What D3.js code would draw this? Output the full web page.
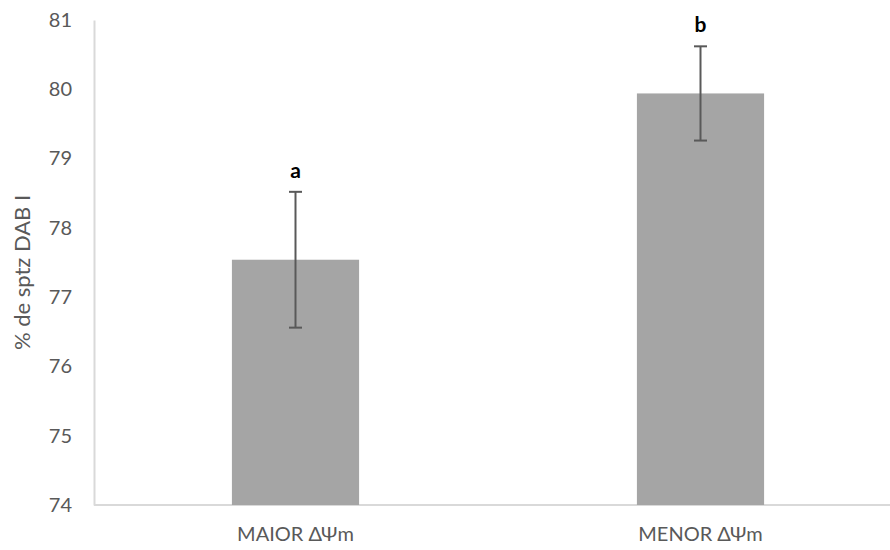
<!DOCTYPE html>
<html>
<head>
<meta charset="utf-8">
<script src="https://cdn.jsdelivr.net/npm/d3@7"></script>
<style>
  html, body { margin: 0; padding: 0; background: #fff; }
  svg { display: block; }
</style>
</head>
<body>
<svg id="chart" width="890" height="550"></svg>
<script>
// Mean % of DAB class I spermatozoa by mitochondrial membrane potential group
const categories = ["MAIOR ΔΨm", "MENOR ΔΨm"];
const means = [77.54, 79.94];
const errors = [0.98, 0.68];
const groupLetters = ["a", "b"];
const yTicks = [74, 75, 76, 77, 78, 79, 80, 81];

const svg = d3.select("#chart");
const font = "Lato, 'Open Sans', sans-serif";

const x = d3.scaleBand()
  .domain(categories)
  .range([93, 903])
  .paddingInner(0.686)
  .paddingOuter(0.343);

const y = d3.scaleLinear()
  .domain([74, 81])
  .range([505, 20]);

// Y axis: light vertical line with labels only
const yAxis = svg.append("g")
  .attr("transform", "translate(94,0)")
  .call(d3.axisLeft(y).tickValues(yTicks).tickSize(0).tickPadding(22).tickFormat(d3.format("d")));
yAxis.select(".domain").attr("stroke", "#d9d9d9").attr("stroke-width", 2);
yAxis.selectAll("text")
  .attr("fill", "#595959")
  .attr("font-family", font)
  .attr("font-size", 20);

// X axis: baseline with category labels
const xAxis = svg.append("g")
  .attr("transform", `translate(0,${y(74)})`)
  .call(d3.axisBottom(x).tickSize(0).tickPadding(22));
xAxis.select(".domain").attr("d", "M94,0H890").attr("stroke", "#d9d9d9").attr("stroke-width", 2);
xAxis.selectAll("text")
  .attr("fill", "#595959")
  .attr("font-family", font)
  .attr("font-size", 20);

// Axis title
svg.append("text")
  .attr("transform", `translate(24,${(y(74) + y(81)) / 2 + 10}) rotate(-90)`)
  .attr("text-anchor", "middle")
  .attr("dominant-baseline", "middle")
  .attr("fill", "#595959")
  .attr("font-family", font)
  .attr("font-size", 22)
  .text("% de sptz DAB I");

// Bars
svg.append("g").selectAll("rect")
  .data(categories)
  .join("rect")
  .attr("x", d => x(d))
  .attr("width", x.bandwidth())
  .attr("y", (d, i) => y(means[i]))
  .attr("height", (d, i) => y(74) - y(means[i]))
  .attr("fill", "#a5a5a5");

// Error bars
const eb = svg.append("g")
  .attr("stroke", "#595959")
  .attr("stroke-width", 2)
  .selectAll("g")
  .data(categories)
  .join("g")
  .attr("transform", d => `translate(${x(d) + x.bandwidth() / 2},0)`);
eb.append("line")
  .attr("y1", (d, i) => y(means[i] - errors[i]))
  .attr("y2", (d, i) => y(means[i] + errors[i]));
eb.append("line")
  .attr("x1", -6.5).attr("x2", 6.5)
  .attr("y1", (d, i) => y(means[i] + errors[i]))
  .attr("y2", (d, i) => y(means[i] + errors[i]));
eb.append("line")
  .attr("x1", -6.5).attr("x2", 6.5)
  .attr("y1", (d, i) => y(means[i] - errors[i]))
  .attr("y2", (d, i) => y(means[i] - errors[i]));

// Significance letters above error bars
svg.append("g").selectAll("text")
  .data(categories)
  .join("text")
  .attr("x", d => x(d) + x.bandwidth() / 2)
  .attr("y", (d, i) => y(means[i] + errors[i]) - 14)
  .attr("text-anchor", "middle")
  .attr("fill", "#000")
  .attr("font-family", font)
  .attr("font-weight", "bold")
  .attr("font-size", 21)
  .text((d, i) => groupLetters[i]);
</script>
</body>
</html>
